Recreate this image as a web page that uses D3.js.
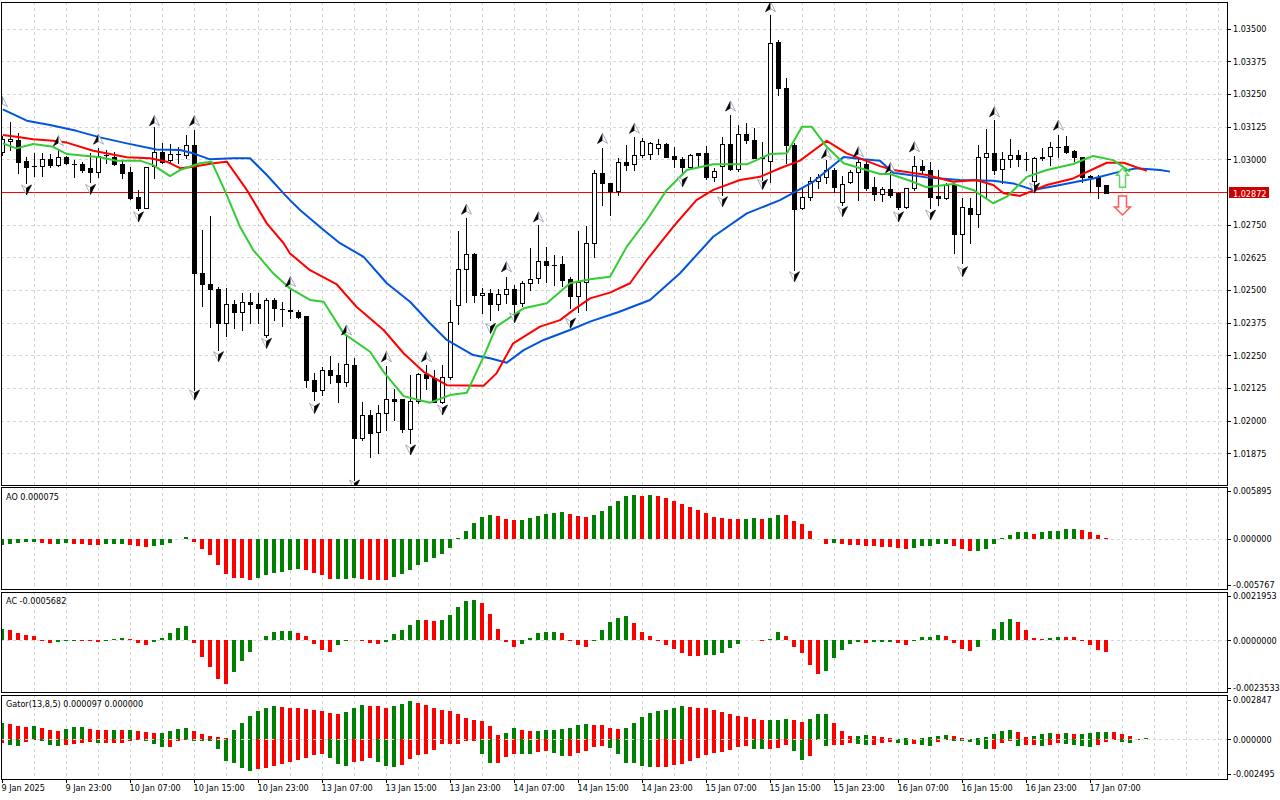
<!DOCTYPE html>
<html>
<head>
<meta charset="utf-8">
<script src="https://cdn.jsdelivr.net/npm/d3@7"></script>
<style>
    body { margin: 0; background: #fff; }
    svg { display: block; }
    svg text { font-family: "DejaVu Sans Condensed", "DejaVu Sans", sans-serif; font-stretch: condensed; font-size: 9px; fill: #000; }
</style>
</head>
<body>
<svg id="chart" width="1280" height="800"></svg>
<script>
"use strict";



//
// Data: H1 bars from 9 Jan 15:00, [open, high, low, close]
//

var candles = [
    [1.03029, 1.03089, 1.03016, 1.03077], [1.03072, 1.03144, 1.03036, 1.03076], [1.03074, 1.03099, 1.02946, 1.02991],
    [1.02994, 1.03010, 1.02908, 1.02972], [1.02973, 1.03024, 1.02936, 1.02975], [1.02974, 1.03025, 1.02936, 1.03000],
    [1.03000, 1.03020, 1.02971, 1.02977], [1.02977, 1.03036, 1.02975, 1.03008], [1.03008, 1.03013, 1.02982, 1.02987],
    [1.02981, 1.02997, 1.02932, 1.02983], [1.02981, 1.02991, 1.02953, 1.02959], [1.02966, 1.03023, 1.02914, 1.02953],
    [1.02953, 1.03042, 1.02933, 1.03013], [1.03016, 1.03036, 1.02985, 1.03018], [1.03010, 1.03029, 1.02978, 1.02982],
    [1.02981, 1.02997, 1.02927, 1.02949], [1.02953, 1.02972, 1.02847, 1.02851], [1.02855, 1.02883, 1.02806, 1.02813],
    [1.02815, 1.02972, 1.02812, 1.02969], [1.02974, 1.03122, 1.02927, 1.03027], [1.03027, 1.03061, 1.02987, 1.02991],
    [1.02997, 1.03057, 1.02985, 1.03019], [1.03019, 1.03048, 1.02985, 1.03020], [1.03016, 1.03093, 1.03004, 1.03055],
    [1.03055, 1.03112, 1.02117, 1.02564], [1.02564, 1.02730, 1.02439, 1.02522], [1.02522, 1.02783, 1.02360, 1.02503],
    [1.02504, 1.02513, 1.02270, 1.02373], [1.02373, 1.02506, 1.02324, 1.02445], [1.02445, 1.02462, 1.02356, 1.02415],
    [1.02415, 1.02487, 1.02347, 1.02453], [1.02454, 1.02487, 1.02375, 1.02445], [1.02446, 1.02490, 1.02373, 1.02430],
    [1.02327, 1.02469, 1.02320, 1.02462], [1.02462, 1.02468, 1.02385, 1.02430], [1.02426, 1.02455, 1.02362, 1.02427],
    [1.02421, 1.02500, 1.02392, 1.02422], [1.02415, 1.02423, 1.02393, 1.02398], [1.02400, 1.02400, 1.02130, 1.02156],
    [1.02156, 1.02181, 1.02079, 1.02115], [1.02117, 1.02207, 1.02098, 1.02194], [1.02194, 1.02247, 1.02143, 1.02175],
    [1.02175, 1.02222, 1.02073, 1.02149], [1.02149, 1.02328, 1.02133, 1.02216], [1.02213, 1.02239, 1.01773, 1.01933],
    [1.01933, 1.02073, 1.01926, 1.02022], [1.02022, 1.02041, 1.01860, 1.01954], [1.01958, 1.02060, 1.01877, 1.02028],
    [1.02028, 1.02209, 1.01964, 1.02082], [1.02082, 1.02120, 1.02003, 1.02076], [1.02082, 1.02084, 1.01958, 1.01967],
    [1.01967, 1.02175, 1.01913, 1.02076], [1.02076, 1.02181, 1.02069, 1.02177], [1.02177, 1.02213, 1.02120, 1.02162],
    [1.02162, 1.02194, 1.02071, 1.02073], [1.02073, 1.02213, 1.02068, 1.02166], [1.02168, 1.02462, 1.02158, 1.02376],
    [1.02443, 1.02727, 1.02370, 1.02579], [1.02579, 1.02777, 1.02455, 1.02637], [1.02637, 1.02642, 1.02455, 1.02481],
    [1.02481, 1.02506, 1.02411, 1.02487], [1.02487, 1.02503, 1.02385, 1.02445], [1.02446, 1.02504, 1.02423, 1.02485],
    [1.02485, 1.02551, 1.02449, 1.02503], [1.02503, 1.02519, 1.02411, 1.02445], [1.02449, 1.02534, 1.02439, 1.02526],
    [1.02526, 1.02660, 1.02500, 1.02541], [1.02545, 1.02749, 1.02526, 1.02612], [1.02612, 1.02663, 1.02532, 1.02594],
    [1.02597, 1.02634, 1.02519, 1.02597], [1.02598, 1.02630, 1.02516, 1.02538], [1.02541, 1.02551, 1.02430, 1.02478],
    [1.02478, 1.02727, 1.02417, 1.02532], [1.02531, 1.02745, 1.02423, 1.02679], [1.02679, 1.02959, 1.02627, 1.02946],
    [1.02946, 1.03044, 1.02825, 1.02910], [1.02910, 1.02910, 1.02787, 1.02880], [1.02880, 1.03004, 1.02863, 1.02991],
    [1.02991, 1.03055, 1.02959, 1.02978], [1.02982, 1.03086, 1.02959, 1.03016], [1.03016, 1.03080, 1.03010, 1.03071],
    [1.03019, 1.03067, 1.03000, 1.03061], [1.03042, 1.03077, 1.03020, 1.03057], [1.03057, 1.03062, 1.03009, 1.03010],
    [1.03013, 1.03048, 1.02972, 1.03000], [1.03000, 1.03009, 1.02944, 1.02969], [1.02969, 1.03020, 1.02967, 1.03016],
    [1.03023, 1.03023, 1.02972, 1.03016], [1.03023, 1.03051, 1.02923, 1.02931], [1.02931, 1.02966, 1.02918, 1.02956],
    [1.02974, 1.03086, 1.02863, 1.03057], [1.03057, 1.03169, 1.02959, 1.02962], [1.02962, 1.03131, 1.02956, 1.03096],
    [1.03096, 1.03138, 1.03061, 1.03074], [1.03074, 1.03119, 1.03004, 1.03006], [1.03010, 1.03067, 1.02921, 1.03004],
    [1.02995, 1.03552, 1.02914, 1.03444], [1.03448, 1.03456, 1.03246, 1.03272], [1.03272, 1.03310, 1.02985, 1.03055],
    [1.03055, 1.03061, 1.02576, 1.02809], [1.02813, 1.02895, 1.02809, 1.02855], [1.02855, 1.02933, 1.02844, 1.02918],
    [1.02918, 1.02944, 1.02889, 1.02931], [1.02931, 1.02997, 1.02908, 1.02959], [1.02959, 1.02966, 1.02876, 1.02893],
    [1.02838, 1.02937, 1.02825, 1.02906], [1.02914, 1.02959, 1.02909, 1.02953], [1.02953, 1.03010, 1.02844, 1.02989],
    [1.02982, 1.02990, 1.02883, 1.02889], [1.02893, 1.02933, 1.02844, 1.02867], [1.02866, 1.02895, 1.02842, 1.02888],
    [1.02888, 1.02951, 1.02856, 1.02863], [1.02870, 1.02876, 1.02809, 1.02819], [1.02819, 1.02890, 1.02814, 1.02889],
    [1.02889, 1.03013, 1.02883, 1.02974], [1.02974, 1.02997, 1.02946, 1.02959], [1.02959, 1.02991, 1.02813, 1.02857],
    [1.02860, 1.02959, 1.02825, 1.02851], [1.02853, 1.02908, 1.02848, 1.02902], [1.02902, 1.02908, 1.02640, 1.02714],
    [1.02714, 1.02851, 1.02602, 1.02816], [1.02813, 1.02851, 1.02679, 1.02791], [1.02791, 1.03055, 1.02740, 1.03008],
    [1.03008, 1.03115, 1.02857, 1.03023], [1.03023, 1.03150, 1.02944, 1.02959], [1.02962, 1.03029, 1.02908, 1.03000],
    [1.03000, 1.03077, 1.02972, 1.03015], [1.03015, 1.03036, 1.02974, 1.03000], [1.03000, 1.03028, 1.02959, 1.03001],
    [1.02918, 1.03010, 1.02902, 1.03004], [1.03004, 1.03042, 1.02997, 1.03010], [1.03013, 1.03067, 1.02978, 1.03046],
    [1.03048, 1.03093, 1.03010, 1.03046], [1.03051, 1.03089, 1.03025, 1.03029], [1.03032, 1.03036, 1.02994, 1.03010],
    [1.03010, 1.03010, 1.02914, 1.02933], [1.02936, 1.02940, 1.02876, 1.02933], [1.02931, 1.02940, 1.02851, 1.02898],
    [1.02901, 1.02902, 1.02871, 1.02872]
];

// fractal marks: [bar, price of the mark]
var fractalsUp = [
    [0, 1.03220], [7, 1.03071], [12, 1.03077], [19, 1.03148], [24, 1.03148], [36, 1.02532], [43, 1.02347],
    [48, 1.02245], [53, 1.02245], [58, 1.02809], [63, 1.02589], [67, 1.02780], [75, 1.03080], [79, 1.03119],
    [91, 1.03204], [96, 1.03584], [103, 1.03023], [107, 1.03029], [111, 1.02968], [114, 1.03048],
    [124, 1.03182], [132, 1.03131]
];

var fractalsDown = [
    [3, 1.02883], [11, 1.02885], [17, 1.02780], [24, 1.02098], [27, 1.02245], [33, 1.02296], [39, 1.02047],
    [44, 1.01754], [51, 1.01888], [55, 1.02041], [61, 1.02353], [64, 1.02394], [71, 1.02373], [85, 1.02914],
    [90, 1.02838], [95, 1.02904], [99, 1.02551], [105, 1.02800], [112, 1.02780], [116, 1.02787],
    [120, 1.02570], [129, 1.02890]
];

// alligator lines: [bar position, price]
var jawLine = [
    [0.1, 1.03191], [3.1, 1.03148], [6, 1.03131], [9.3, 1.03109], [12.25, 1.03084], [15.6, 1.03061],
    [19.3, 1.03038], [22.25, 1.03036], [23.9, 1.03023], [26, 1.03000], [28.9, 1.03004], [31, 1.03004],
    [33.1, 1.02940], [35.2, 1.02870], [36, 1.02844], [37.25, 1.02806], [40.2, 1.02730], [42.25, 1.02679],
    [45.2, 1.02627], [48.1, 1.02526], [51, 1.02455], [53.5, 1.02373], [55.6, 1.02309], [58.9, 1.02251],
    [61, 1.02239], [63.1, 1.02222], [65.2, 1.02270], [67.7, 1.02309], [71, 1.02347], [73.5, 1.02379],
    [77, 1.02415], [81, 1.02462], [84.75, 1.02564], [88.9, 1.02704], [93.1, 1.02793], [97.25, 1.02844],
    [101.4, 1.02914], [105.2, 1.03009], [107.7, 1.03000], [109.75, 1.02995], [111.4, 1.02949],
    [115.6, 1.02931], [119.75, 1.02921], [123.9, 1.02918], [126.4, 1.02908], [128.9, 1.02883],
    [132.25, 1.02902], [136.4, 1.02927], [139.75, 1.02953], [141.8, 1.02966], [144.75, 1.02959], [146, 1.02953]
];

var teethLine = [
    [0.1, 1.03093], [1.8, 1.03086], [3.9, 1.03077], [6.4, 1.03071], [8.1, 1.03064], [11.4, 1.03033],
    [15.6, 1.03008], [18.5, 1.03004], [20.6, 1.02991], [22.25, 1.02966], [23.9, 1.02972], [26.4, 1.02985],
    [28.1, 1.02991], [30.6, 1.02883], [33.1, 1.02755], [35.2, 1.02679], [36, 1.02640], [38.5, 1.02576],
    [41.8, 1.02523], [44.3, 1.02436], [47.7, 1.02347], [50.2, 1.02258], [52.7, 1.02187], [55.6, 1.02136],
    [60.2, 1.02134], [61.8, 1.02181], [63.9, 1.02296], [67.25, 1.02360], [69.75, 1.02385], [71.4, 1.02423],
    [73.5, 1.02468], [76, 1.02490], [78.5, 1.02526], [80.6, 1.02615], [83.9, 1.02742], [86.8, 1.02844],
    [88.9, 1.02883], [92.25, 1.02921], [94.75, 1.02933], [97.25, 1.02966], [99.75, 1.02995], [103.1, 1.03071],
    [105.6, 1.03023], [109.75, 1.02974], [111.4, 1.02959], [115.6, 1.02940], [118.9, 1.02914],
    [121.8, 1.02921], [123.9, 1.02902], [125.2, 1.02870], [127.25, 1.02860], [130.6, 1.02902],
    [133.9, 1.02927], [138.1, 1.02987], [140.2, 1.02987], [143.1, 1.02956]
];

var lipsLine = [
    [0.1, 1.03061], [1.8, 1.03042], [3.9, 1.03059], [6.4, 1.03048], [8.1, 1.03020], [12.25, 1.03008],
    [14.3, 1.02995], [17.25, 1.02995], [18.9, 1.02978], [21, 1.02936], [22.25, 1.02959], [24.75, 1.02985],
    [26.2, 1.02991], [28.1, 1.02863], [29.75, 1.02742], [31.4, 1.02653], [33.9, 1.02564], [36, 1.02506],
    [38.5, 1.02462], [40.2, 1.02455], [42.7, 1.02334], [46, 1.02264], [47.7, 1.02187], [50.2, 1.02094],
    [53.5, 1.02069], [56, 1.02098], [58.1, 1.02107], [60.2, 1.02245], [61.8, 1.02360], [65.2, 1.02430],
    [68.1, 1.02449], [71, 1.02526], [73.5, 1.02541], [76, 1.02551], [78.1, 1.02666], [80.6, 1.02768],
    [83.1, 1.02883], [85.6, 1.02959], [88.9, 1.02981], [93.1, 1.02981], [96, 1.03020], [98.1, 1.03023],
    [100, 1.03125], [101.2, 1.03125], [103.1, 1.03048], [105.2, 1.02985], [109.75, 1.02944], [111, 1.02944],
    [113.5, 1.02918], [115.6, 1.02893], [118.9, 1.02906], [121.4, 1.02883], [123.9, 1.02832],
    [125.6, 1.02857], [128.1, 1.02933], [130.6, 1.02959], [133.9, 1.02982], [136.4, 1.03013],
    [138.9, 1.02997], [141, 1.02953]
];

// Awesome Oscillator
var aoValues = [
    -0.000750, -0.000663, -0.000500, -0.000413, -0.000375, -0.000538, -0.000663, -0.000650, -0.000538, -0.000663,
    -0.000675, -0.000750, -0.000763, -0.000738, -0.000663, -0.000625, -0.000750, -0.000913, -0.001038, -0.000913,
    -0.000750, -0.000500, -0.000038, 0.000250, -0.000413, -0.001338, -0.002088, -0.003338, -0.004463, -0.004875,
    -0.004900, -0.005088, -0.004875, -0.004588, -0.004338, -0.004163, -0.003913, -0.003838, -0.003913, -0.004250,
    -0.004500, -0.005038, -0.005000, -0.004963, -0.004913, -0.005000, -0.005088, -0.005163, -0.005175, -0.004813,
    -0.004413, -0.003963, -0.003338, -0.002913, -0.002413, -0.001963, -0.001163, 0.000063, 0.000913, 0.001875,
    0.002625, 0.002913, 0.002788, 0.002463, 0.002288, 0.002338, 0.002588, 0.002788, 0.003038, 0.003163,
    0.003288, 0.003038, 0.002788, 0.002663, 0.002913, 0.003413, 0.004038, 0.004713, 0.005288, 0.005413,
    0.005288, 0.005375, 0.005288, 0.005000, 0.004713, 0.004288, 0.003913, 0.003538, 0.003163, 0.002663,
    0.002588, 0.002413, 0.002400, 0.002413, 0.002538, 0.002413, 0.002538, 0.002913, 0.002875, 0.002213,
    0.001788, 0.000963, -0.000038, -0.000625, -0.000600, -0.000625, -0.000750, -0.000763, -0.000913, -0.000925,
    -0.001000, -0.001013, -0.001125, -0.001250, -0.001125, -0.000913, -0.000900, -0.000713, -0.000625, -0.000913,
    -0.001250, -0.001538, -0.001525, -0.001250, -0.000625, 0.000038, 0.000463, 0.000750, 0.000763, 0.000588,
    0.000750, 0.000875, 0.000963, 0.001125, 0.001138, 0.001000, 0.000750, 0.000463, 0.000075
];

// Accelerator Oscillator
var acValues = [
    0.000550, 0.000500, 0.000350, 0.000250, 0.000200, -0.000035, -0.000115, -0.000065, -0.000015, -0.000010,
    -0.000020, -0.000035, -0.000085, -0.000015, 0.000085, 0.000100, 0.000050, -0.000150, -0.000235, -0.000085,
    0.000100, 0.000350, 0.000600, 0.000700, -0.000115, -0.000835, -0.001335, -0.001900, -0.002150, -0.001585,
    -0.001000, -0.000550, 0.000035, 0.000200, 0.000400, 0.000450, 0.000465, 0.000385, 0.000200, -0.000200,
    -0.000450, -0.000550, -0.000250, -0.000015, 0.000010, -0.000010, -0.000150, -0.000185, -0.000085, 0.000300,
    0.000500, 0.000750, 0.001000, 0.000995, 0.000950, 0.001000, 0.001250, 0.001635, 0.001950, 0.002000,
    0.001865, 0.001300, 0.000550, -0.000085, -0.000335, -0.000185, 0.000100, 0.000365, 0.000400, 0.000405,
    0.000350, -0.000035, -0.000235, -0.000335, -0.000015, 0.000500, 0.000900, 0.001085, 0.001200, 0.000850,
    0.000400, 0.000200, -0.000015, -0.000235, -0.000435, -0.000635, -0.000750, -0.000755, -0.000745, -0.000715,
    -0.000635, -0.000385, -0.000185, 0.000015, 0.000035, -0.000015, 0.000085, 0.000400, 0.000235, -0.000335,
    -0.000615, -0.001235, -0.001665, -0.001535, -0.000865, -0.000485, -0.000165, -0.000085, -0.000150, -0.000100,
    -0.000080, -0.000065, -0.000150, -0.000215, -0.000050, 0.000165, 0.000170, 0.000265, 0.000200, -0.000115,
    -0.000415, -0.000515, -0.000315, 0.000015, 0.000565, 0.000915, 0.001065, 0.000915, 0.000515, 0.000135,
    0.000085, 0.000135, 0.000165, 0.000160, 0.000150, -0.000050, -0.000250, -0.000465, -0.0005682
];

// Gator: |jaw - teeth| above zero, -|teeth - lips| below
var gatorUpper = [
    0.001206, 0.001083, 0.000939, 0.000866, 0.000939, 0.000794, 0.000650, 0.000578, 0.000722, 0.000866,
    0.000874, 0.000722, 0.000715, 0.000650, 0.000657, 0.000650, 0.000657, 0.000578, 0.000505, 0.000433,
    0.000440, 0.000578, 0.000722, 0.000794, 0.000578, 0.000361, 0.000217, 0.000144, 0.000072, 0.000650,
    0.001155, 0.001661, 0.002022, 0.002238, 0.002383, 0.002310, 0.002303, 0.002238, 0.002166, 0.002159,
    0.002022, 0.001877, 0.001805, 0.001949, 0.002238, 0.002455, 0.002448, 0.002383, 0.002238, 0.002383,
    0.002527, 0.002744, 0.002650, 0.002455, 0.002238, 0.002094, 0.002022, 0.001805, 0.001516, 0.001372,
    0.001300, 0.000939, 0.000289, 0.000433, 0.000794, 0.000700, 0.000578, 0.000599, 0.000650, 0.000700,
    0.000744, 0.000794, 0.001011, 0.001083, 0.001076, 0.001011, 0.000794, 0.000787, 0.000801, 0.001155,
    0.001588, 0.001877, 0.002022, 0.002094, 0.002238, 0.002383, 0.002310, 0.002303, 0.002260, 0.002094,
    0.001949, 0.001805, 0.001661, 0.001588, 0.001444, 0.001372, 0.001379, 0.001386, 0.001444, 0.001372,
    0.001227, 0.001444, 0.001805, 0.001812, 0.001155, 0.000578, 0.000217, 0.000224, 0.000289, 0.000217,
    0.000144, 0.000072, 0.000065, 0.000072, 0.000007, 0.000072, 0.000144, 0.000217, 0.000289, 0.000217,
    0.000072, 0.000065, 0.000072, 0.000144, 0.000361, 0.000578, 0.000650, 0.000505, 0.000144, 0.000217,
    0.000361, 0.000433, 0.000361, 0.000433, 0.000361, 0.000368, 0.000433, 0.000505, 0.000513, 0.000505,
    0.000361, 0.000217, 0.000007, 0.000097
];

var gatorLower = [
    -0.000289, -0.000433, -0.000505, -0.000217, -0.000072, -0.000144, -0.000433, -0.000505, -0.000433, -0.000361,
    -0.000289, -0.000217, -0.000289, -0.000282, -0.000274, -0.000267, -0.000144, -0.000072, -0.000123, -0.000361,
    -0.000556, -0.000549, -0.000123, -0.000051, -0.000123, -0.000130, -0.000137, -0.000722, -0.001567, -0.001682,
    -0.002094, -0.002289, -0.002166, -0.002094, -0.001949, -0.001805, -0.001661, -0.001516, -0.001372, -0.001155,
    -0.001083, -0.001372, -0.001805, -0.001949, -0.001661, -0.001588, -0.001372, -0.001661, -0.001949, -0.001957,
    -0.001877, -0.001444, -0.001155, -0.001083, -0.000744, -0.000361, -0.000354, -0.000310, -0.000144, -0.000123,
    -0.001061, -0.001711, -0.001704, -0.001278, -0.001061, -0.001069, -0.001076, -0.000917, -0.000845, -0.000989,
    -0.001206, -0.001199, -0.000989, -0.000845, -0.000556, -0.000484, -0.000628, -0.001061, -0.001711, -0.001718,
    -0.001928, -0.002000, -0.001993, -0.001986, -0.001827, -0.001783, -0.001588, -0.001350, -0.001155, -0.000989,
    -0.000917, -0.000794, -0.000556, -0.000505, -0.000671, -0.000722, -0.000671, -0.000599, -0.000433, -0.000845,
    -0.001495, -0.001206, -0.000051, -0.000484, -0.000433, -0.000426, -0.000289, -0.000296, -0.000433, -0.000426,
    -0.000289, -0.000217, -0.000289, -0.000433, -0.000361, -0.000433, -0.000440, -0.000217, -0.000072, -0.000079,
    -0.000144, -0.000217, -0.000433, -0.000722, -0.000715, -0.000289, -0.000144, -0.000505, -0.000433, -0.000426,
    -0.000505, -0.000433, -0.000289, -0.000361, -0.000433, -0.000505, -0.000513, -0.000433, -0.000217, -0.000072,
    -0.000217, -0.000289, -0.000036, 0.000000
];

var timeLabels = [
    "9 Jan 2025", "9 Jan 23:00", "10 Jan 07:00", "10 Jan 15:00", "10 Jan 23:00", "13 Jan 07:00",
    "13 Jan 15:00", "13 Jan 23:00", "14 Jan 07:00", "14 Jan 15:00", "14 Jan 23:00", "15 Jan 07:00",
    "15 Jan 15:00", "15 Jan 23:00", "16 Jan 07:00", "16 Jan 15:00", "16 Jan 23:00", "17 Jan 07:00"
];

var priceTicks = [
    1.01875, 1.02000, 1.02125, 1.02250, 1.02375, 1.02500, 1.02625,
    1.02750, 1.02875, 1.03000, 1.03125, 1.03250, 1.03375, 1.03500
];

var lastPrice = 1.02872;

// trade signal arrows drawn after the last bar: tip price
var signalArrows = [
    { bar: 140, price: 1.02966, dir: "up" },
    { bar: 140, price: 1.02787, dir: "down" }
];

// colour of the very first histogram bar (nothing to compare with)
var firstBarRising = { ao: true, ac: true, gatorUpper: true, gatorLower: false };



//
// Layout and scales
//

var svg = d3.select("#chart");

var plotLeft = 1,
    plotRight = 1227;

var panels = {
    main:  { id: "main",  top: 2,   bottom: 485 },
    ao:    { id: "ao",    top: 487, bottom: 589 },
    ac:    { id: "ac",    top: 592, bottom: 692 },
    gator: { id: "gator", top: 695, bottom: 779 }
};

var x = d3.scaleLinear().domain([0, 153]).range([2, 1226]);

var yMain  = d3.scaleLinear().domain([1.01754, 1.03602]).range([485, 2]);
var yAO    = d3.scaleLinear().domain([-0.005767, 0.005895]).range([585, 491]);
var yAC    = d3.scaleLinear().domain([-0.0023533, 0.0021953]).range([688, 596]);
var yGator = d3.scaleLinear().domain([-0.002495, 0.002847]).range([774, 700]);

var GREEN = "#008000",
    RED = "#ff0000",
    GRID = "#d6d6d6";

// terminal style numbers: plain hyphen for the minus sign
function fixed (digits) {
    var f = d3.format("." + digits + "f");
    return function (v) { return f(v).replace("\u2212", "-"); };
}

var defs = svg.append("defs");

Object.keys(panels).forEach(function (key) {
    var p = panels[key];
    defs.append("clipPath").attr("id", "clip-" + p.id)
        .append("rect")
        .attr("x", plotLeft + 1).attr("y", p.top + 1)
        .attr("width", plotRight - plotLeft - 1).attr("height", p.bottom - p.top - 1);
});



//
// Grid
//

function drawVerticalGrid (panel) {

    svg.append("g")
        .selectAll("line")
        .data(d3.range(4, 153, 4))
        .enter().append("line")
        .attr("x1", function (d) { return x(d) + 0.5; })
        .attr("x2", function (d) { return x(d) + 0.5; })
        .attr("y1", panel.top)
        .attr("y2", panel.bottom)
        .attr("stroke", GRID)
        .attr("stroke-dasharray", "3,3");
}

Object.keys(panels).forEach(function (key) { drawVerticalGrid(panels[key]); });

svg.append("g")
    .selectAll("line")
    .data(priceTicks)
    .enter().append("line")
    .attr("x1", plotLeft)
    .attr("x2", plotRight)
    .attr("y1", function (d) { return Math.round(yMain(d)) + 0.5; })
    .attr("y2", function (d) { return Math.round(yMain(d)) + 0.5; })
    .attr("stroke", GRID)
    .attr("stroke-dasharray", "3,3");



//
// Main window: candles, alligator, fractals
//

var mainLayer = svg.append("g").attr("clip-path", "url(#clip-main)");

// current price line sits under the bars
mainLayer.append("line")
    .attr("x1", plotLeft).attr("x2", plotRight)
    .attr("y1", Math.floor(yMain(lastPrice)) + 0.5)
    .attr("y2", Math.floor(yMain(lastPrice)) + 0.5)
    .attr("stroke", "#ff0000");

var candleGroups = mainLayer.selectAll("g.candle")
    .data(candles)
    .enter().append("g")
    .attr("class", "candle")
    .attr("shape-rendering", "crispEdges");

candleGroups.append("line")
    .attr("x1", function (d, i) { return x(i) + 0.5; })
    .attr("x2", function (d, i) { return x(i) + 0.5; })
    .attr("y1", function (d) { return Math.round(yMain(d[1])); })
    .attr("y2", function (d) { return Math.round(yMain(d[2])) + 1; })
    .attr("stroke", "#000");

candleGroups.each(function (d, i) {

    var g = d3.select(this),
        yTop = Math.round(yMain(Math.max(d[0], d[3]))),
        yBot = Math.round(yMain(Math.min(d[0], d[3])));

    if (yBot - yTop < 1) {
        g.append("line")
            .attr("x1", x(i) - 2).attr("x2", x(i) + 3)
            .attr("y1", yTop + 0.5).attr("y2", yTop + 0.5)
            .attr("stroke", "#000");
    } else {
        g.append("rect")
            .attr("x", x(i) - 1.5)
            .attr("y", yTop + 0.5)
            .attr("width", 4)
            .attr("height", yBot - yTop)
            .attr("fill", d[3] >= d[0] ? "#fff" : "#000")
            .attr("stroke", "#000");
    }
});

var priceLine = d3.line()
    .x(function (d) { return x(d[0]); })
    .y(function (d) { return yMain(d[1]); });

[[jawLine, "#0055dd"], [teethLine, "#ff0000"], [lipsLine, "#33cc33"]].forEach(function (s) {
    mainLayer.append("path")
        .datum(s[0])
        .attr("d", priceLine)
        .attr("fill", "none")
        .attr("stroke", s[1])
        .attr("stroke-width", 2)
        .attr("stroke-linejoin", "round");
});

function drawFractal (bar, price, up) {

    var cx = x(bar) + 0.5,
        cy = yMain(price),
        s = up ? 1 : -1,
        g = mainLayer.append("g").attr("transform", "translate(" + cx + "," + cy + ")");

    // one half dark, the other light with a grey rim
    g.append("path")
        .attr("d", "M0," + (-5 * s) + "L0," + (2 * s) + "L-5," + (5 * s) + "Z")
        .attr("fill", up ? "#000" : "#fff")
        .attr("stroke", up ? "#000" : "#7f8fa0")
        .attr("stroke-width", 0.7);

    g.append("path")
        .attr("d", "M0," + (-5 * s) + "L5," + (5 * s) + "L0," + (2 * s) + "Z")
        .attr("fill", up ? "#fff" : "#000")
        .attr("stroke", up ? "#7f8fa0" : "#000")
        .attr("stroke-width", 0.7);
}

fractalsUp.forEach(function (f) { drawFractal(f[0], f[1], true); });
fractalsDown.forEach(function (f) { drawFractal(f[0], f[1], false); });

signalArrows.forEach(function (a) {

    var cx = x(a.bar) + 0.5,
        cy = yMain(a.price),
        d = a.dir === "up"
            ? "M0,0L6,7L3,7L3,19L-3,19L-3,7L-6,7Z"
            : "M0,0L-8,-8L-4,-8L-4,-19L4,-19L4,-8L8,-8Z";

    mainLayer.append("path")
        .attr("transform", "translate(" + cx + "," + cy + ")")
        .attr("d", d)
        .attr("fill", "#fff")
        .attr("stroke", a.dir === "up" ? "#66d466" : "#ff5a5a")
        .attr("stroke-width", 1.5);
});



//
// Histogram windows
//

function barColors (values, firstUp, byMagnitude) {

    var up = firstUp;

    return values.map(function (v, i) {
        if (i > 0) {
            var cur = byMagnitude ? Math.abs(v) : v,
                prev = byMagnitude ? Math.abs(values[i - 1]) : values[i - 1];
            if (cur > prev) { up = true; } else if (cur < prev) { up = false; }
        }
        return up ? GREEN : RED;
    });
}

function drawHistogram (panel, yScale, values, colors) {

    var y0 = Math.round(yScale(0));

    svg.append("g")
        .attr("clip-path", "url(#clip-" + panel.id + ")")
        .attr("shape-rendering", "crispEdges")
        .selectAll("rect")
        .data(values)
        .enter().append("rect")
        .attr("x", function (d, i) { return x(i) - 2; })
        .attr("width", 4)
        .attr("y", function (d) { return Math.min(y0, Math.round(yScale(d))); })
        .attr("height", function (d) { return Math.abs(Math.round(yScale(d)) - y0); })
        .attr("fill", function (d, i) { return colors[i]; });
}

function drawZeroLine (panel, yScale) {

    svg.append("line")
        .attr("x1", plotLeft).attr("x2", plotRight)
        .attr("y1", Math.round(yScale(0)) + 0.5)
        .attr("y2", Math.round(yScale(0)) + 0.5)
        .attr("stroke", GRID)
        .attr("stroke-dasharray", "3,3");
}

drawZeroLine(panels.ao, yAO);
drawZeroLine(panels.ac, yAC);
drawHistogram(panels.ao, yAO, aoValues, barColors(aoValues, firstBarRising.ao, false));
drawHistogram(panels.ac, yAC, acValues, barColors(acValues, firstBarRising.ac, false));
drawHistogram(panels.gator, yGator, gatorUpper, barColors(gatorUpper, firstBarRising.gatorUpper, true));
drawHistogram(panels.gator, yGator, gatorLower, barColors(gatorLower, firstBarRising.gatorLower, true));
drawZeroLine(panels.gator, yGator);



//
// Frames, axes and labels
//

Object.keys(panels).forEach(function (key) {
    var p = panels[key];
    svg.append("rect")
        .attr("x", plotLeft + 0.5).attr("y", p.top + 0.5)
        .attr("width", plotRight - plotLeft).attr("height", p.bottom - p.top)
        .attr("fill", "none")
        .attr("stroke", "#000")
        .attr("shape-rendering", "crispEdges");
});

function styleAxis (g) {
    g.select(".domain").remove();
    g.selectAll(".tick line").attr("stroke", "#000").attr("shape-rendering", "crispEdges");
}

var lastPriceY = yMain(lastPrice);

svg.append("g")
    .attr("transform", "translate(" + plotRight + ",0)")
    .call(d3.axisRight(yMain)
        .tickValues(priceTicks.filter(function (t) { return Math.abs(yMain(t) - lastPriceY) > 9; }))
        .tickSize(4)
        .tickPadding(2)
        .tickFormat(fixed(5)))
    .call(styleAxis);

var priceTag = svg.append("g").attr("transform", "translate(" + (plotRight + 2) + "," + Math.round(lastPriceY) + ")");
priceTag.append("rect")
    .attr("x", 0).attr("y", -6)
    .attr("width", 40).attr("height", 11)
    .attr("fill", "#cc0000");
priceTag.append("text")
    .attr("x", 4).attr("y", 3.5)
    .style("fill", "#fff")
    .text(fixed(5)(lastPrice));

[[panels.ao, yAO, 6], [panels.ac, yAC, 7], [panels.gator, yGator, 6]].forEach(function (s) {
    var dom = s[1].domain();
    svg.append("g")
        .attr("transform", "translate(" + plotRight + ",0)")
        .call(d3.axisRight(s[1])
            .tickValues([dom[1], 0, dom[0]])
            .tickSize(4)
            .tickPadding(2)
            .tickFormat(fixed(s[2])))
        .call(styleAxis);
});

var timeAxis = svg.append("g")
    .attr("transform", "translate(0," + panels.gator.bottom + ")")
    .call(d3.axisBottom(x)
        .tickValues(d3.range(0, timeLabels.length * 8, 8))
        .tickSize(4)
        .tickPadding(2)
        .tickFormat(function (d, k) { return timeLabels[k]; }))
    .call(styleAxis);

timeAxis.selectAll("text").attr("text-anchor", "start").attr("x", -1);

svg.append("text")
    .attr("x", 6).attr("y", 500)
    .text("AO " + fixed(6)(aoValues[aoValues.length - 1]));

svg.append("text")
    .attr("x", 6).attr("y", 604)
    .text("AC " + fixed(7)(acValues[acValues.length - 1]));

svg.append("text")
    .attr("x", 6).attr("y", 707)
    .text("Gator(13,8,5) " + fixed(6)(gatorUpper[gatorUpper.length - 1]) + " " +
          fixed(6)(Math.abs(gatorLower[gatorLower.length - 1])));

</script>
</body>
</html>
